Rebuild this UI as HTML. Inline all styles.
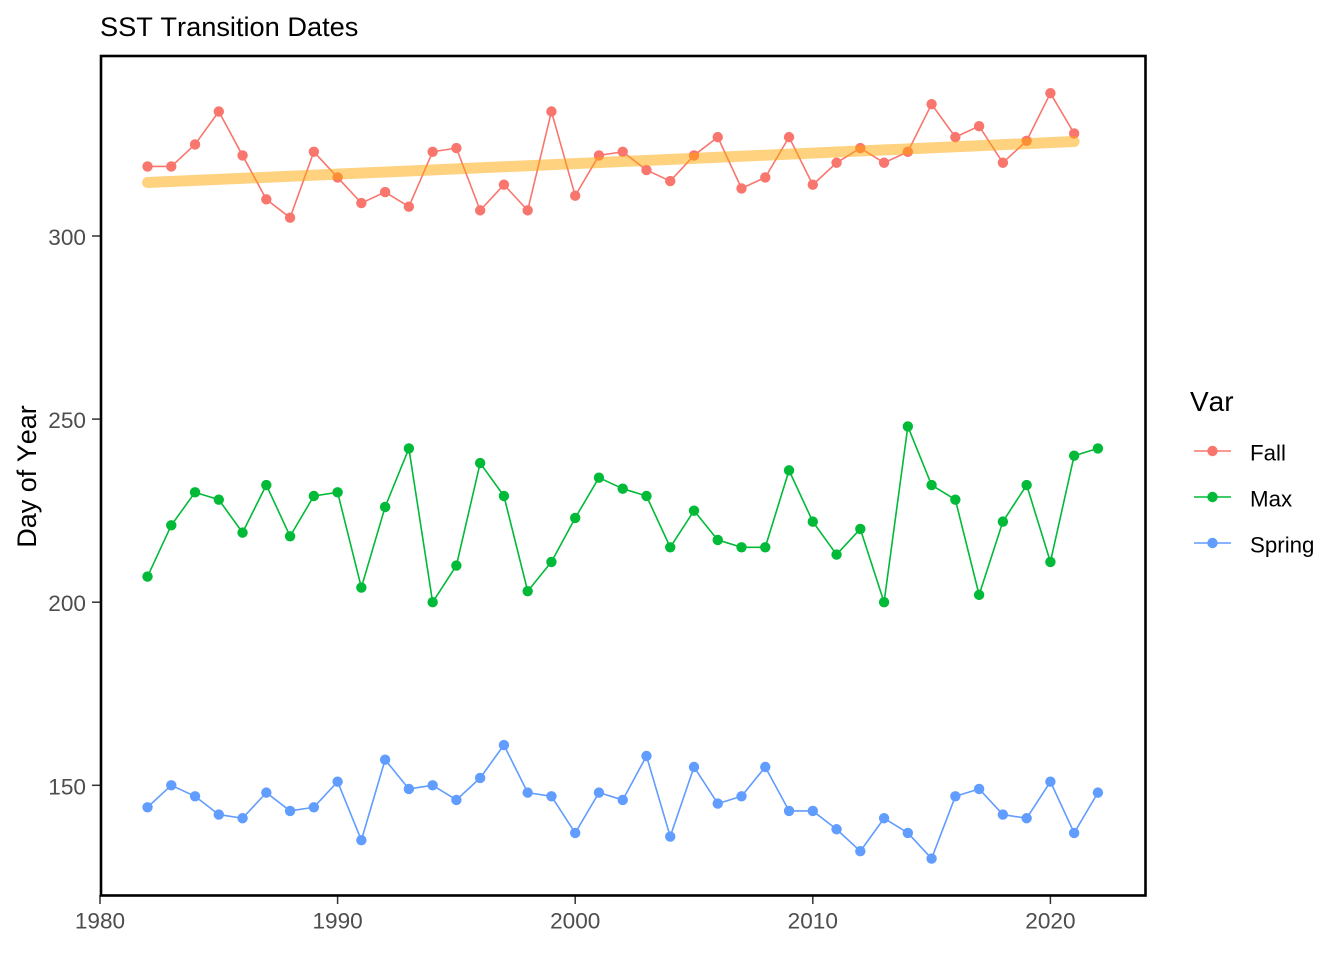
<!DOCTYPE html>
<html lang="en">
<head>
<meta charset="utf-8">
<title>SST Transition Dates</title>
<style>
html,body{margin:0;padding:0;background:#fff;}
svg{display:block;}
text{font-family:"Liberation Sans",sans-serif;font-kerning:none;}
</style>
</head>
<body>
<svg id="chart" xmlns="http://www.w3.org/2000/svg" width="1344" height="960" viewBox="0 0 1344 960">
  <rect x="0" y="0" width="1344" height="960" fill="#ffffff"/>
  <text x="100" y="36" font-size="27.2" fill="#000">SST Transition Dates</text>
  <text transform="translate(36,476.5) rotate(-90)" text-anchor="middle" font-size="27" fill="#000">Day of Year</text>
  <g id="marks"></g>
  <g id="axes"></g>
  <rect x="101" y="56" width="1044.5" height="839.5" fill="none" stroke="#000" stroke-width="2.6"/>
  <g>
    <text x="1190" y="411" font-size="28" fill="#000">Var</text>
    <g id="legend-entries"></g>
  </g>
</svg>
<script>
const years = [1982,1983,1984,1985,1986,1987,1988,1989,1990,1991,1992,1993,1994,1995,1996,1997,1998,1999,2000,2001,2002,2003,2004,2005,2006,2007,2008,2009,2010,2011,2012,2013,2014,2015,2016,2017,2018,2019,2020,2021,2022];
const fallValues = [319,319,325,334,322,310,305,323,316,309,312,308,323,324,307,314,307,334,311,322,323,318,315,322,327,313,316,327,314,320,324,320,323,336,327,330,320,326,339,328];
const maxValues = [207,221,230,228,219,232,218,229,230,204,226,242,200,210,238,229,203,211,223,234,231,229,215,225,217,215,215,236,222,213,220,200,248,232,228,202,222,232,211,240,242];
const springValues = [144,150,147,142,141,148,143,144,151,135,157,149,150,146,152,161,148,147,137,148,146,158,136,155,145,147,155,143,143,138,132,141,137,130,147,149,142,141,151,137,148];
const trendYears = [1982,2021];
const trendValues = [314.6,325.8];
const xTicks = [1980,1990,2000,2010,2020];
const yTicks = [150,200,250,300];
const seriesNames = ["Fall","Max","Spring"];
const seriesColors = ["#F8766D","#00BA38","#619CFF"];

const NS = "http://www.w3.org/2000/svg";
function xScale(v){ return 100 + (v - 1980) * 23.76; }
function yScale(v){ return 785.3 - (v - 150) * 3.662; }
function make(tag, attrs, parent){
  const el = document.createElementNS(NS, tag);
  for (const k in attrs) el.setAttribute(k, attrs[k]);
  parent.appendChild(el);
  return el;
}

const marks = document.getElementById("marks");
const axes = document.getElementById("axes");
const legendEntries = document.getElementById("legend-entries");
const seriesValues = [fallValues, maxValues, springValues];

seriesValues.forEach(function(values, s){
  const name = seriesNames[s].toLowerCase();
  const group = make("g", {}, marks);
  
  
  const pts = values.map(function(v, i){ return xScale(years[i]).toFixed(2) + "," + yScale(v).toFixed(2); }).join(" ");
  const line = make("polyline", {points: pts, fill: "none", stroke: seriesColors[s], "stroke-width": 1.6, "stroke-linejoin": "round"}, group);
  
  
  values.forEach(function(v, i){
    const dot = make("circle", {cx: xScale(years[i]), cy: yScale(v), r: 5.2, fill: seriesColors[s]}, group);
    
    
  });
});

const trend = make("line", {
  x1: xScale(trendYears[0]), y1: yScale(trendValues[0]),
  x2: xScale(trendYears[1]), y2: yScale(trendValues[1]),
  stroke: "#FFA500", "stroke-opacity": 0.5, "stroke-width": 11, "stroke-linecap": "round"
}, marks);



xTicks.forEach(function(t){
  const x = xScale(t);
  const tick = make("line", {x1: x, x2: x, y1: 895, y2: 904, stroke: "#333333", "stroke-width": 1.5}, axes);
  
  
  const label = make("text", {x: x, y: 928.5, "text-anchor": "middle", "font-size": 22.6, fill: "#4D4D4D"}, axes);
  
  
  label.textContent = String(t);
});
yTicks.forEach(function(t){
  const y = yScale(t);
  const tick = make("line", {x1: 92, x2: 101, y1: y, y2: y, stroke: "#333333", "stroke-width": 1.5}, axes);
  
  
  const label = make("text", {x: 86, y: y + 9, "text-anchor": "end", "font-size": 22.6, fill: "#4D4D4D"}, axes);
  
  
  label.textContent = String(t);
});

seriesNames.forEach(function(n, s){
  const cy = 451 + s * 46;
  const group = make("g", {}, legendEntries);
  
  
  make("line", {x1: 1194, x2: 1231, y1: cy, y2: cy, stroke: seriesColors[s], "stroke-width": 1.6}, group);
  make("circle", {cx: 1212.5, cy: cy, r: 5.2, fill: seriesColors[s]}, group);
  const label = make("text", {x: 1250, y: cy + 9.5, "font-size": 22.3, fill: "#000"}, group);
  
  
  label.textContent = n;
});
</script>
</body>
</html>
